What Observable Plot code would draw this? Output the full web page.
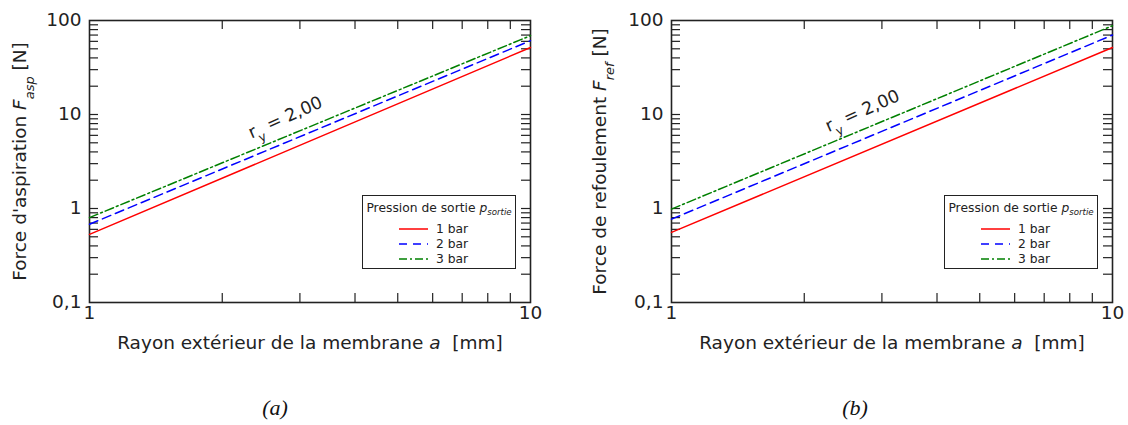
<!DOCTYPE html>
<html>
<head>
<meta charset="utf-8">
<script src="https://cdn.jsdelivr.net/npm/d3@7"></script>
<script src="https://cdn.jsdelivr.net/npm/@observablehq/plot@0.6"></script>
<style>
  body { margin: 0; background: #fff; }
  #wrap { position: relative; width: 1128px; height: 425px; background: #fff; font-family: "DejaVu Sans", sans-serif; color: #222; }
  .panel { position: absolute; top: 0; }
  .cap { position: absolute; top: 395px; width: 60px; text-align: center; font-family: "Liberation Serif", serif; font-style: italic; font-size: 22px; color: #111; }
  .legend { position: absolute; top: 195px; width: 152px; height: 72px; border: 1.5px solid #222; background: #fff; font-size: 12.3px; color: #222; }
  .legend .title { position: absolute; top: 5px; left: 0; width: 100%; text-align: center; white-space: nowrap; }
  .legend .row { position: absolute; left: 36px; height: 15px; display: flex; align-items: center; white-space: nowrap; }
  .legend .row svg { margin-right: 8px; }
  .legend sub { font-size: 70%; font-style: italic; }
</style>
</head>
<body>
<div id="wrap"></div>
<script>
// ---------------- data ----------------
const radius = [1, 10];                       // a [mm]
const pressures = ["1 bar", "2 bar", "3 bar"];
const asp1bar = [0.53, 51.6];                 // F_asp [N]
const asp2bar = [0.68, 61];
const asp3bar = [0.80, 69];
const ref1bar = [0.557, 51.6];                // F_ref [N]
const ref2bar = [0.77, 70];
const ref3bar = [0.985, 88];
const xTickLabels = [1, 10];
const yTickLabels = [0.1, 1, 10, 100];
const annotation = "ry = 2,00";

// ---------------- styles ----------------
const colors = ["#ff0000", "#0000ff", "#008000"];
const dashes = [null, "9,5", "9,3,2,3"];
const ink = "#222";

const xMinor = [2, 3, 4, 5, 6, 7, 8, 9];
const yMinor = [];
[0.1, 1, 10].forEach(d => { for (let k = 1; k <= 9; k++) if (k > 1 || d > 0.1) yMinor.push(d * k); });

function rows(series) {
  const out = [];
  series.forEach((vals, i) => radius.forEach((a, j) => out.push({a, F: vals[j], p: pressures[i]})));
  return out;
}

function rich(textEl, parts) {
  textEl.textContent = "";
  for (const p of parts) {
    const ts = document.createElementNS("http://www.w3.org/2000/svg", "tspan");
    ts.textContent = p.t;
    ts.setAttribute("style", "white-space:pre");
    if (p.i) ts.setAttribute("font-style", "italic");
    if (p.sub) { ts.setAttribute("baseline-shift", "sub"); ts.setAttribute("font-size", "70%"); }
    textEl.appendChild(ts);
  }
}

function makePanel({series, left, ml, mr, yPlaceholder, yParts, ylDx, annX, annY}) {
  const W = 564, H = 360, mt = 20, mb = 58;
  const fh = H - mt - mb, fw = W - ml - mr;
  const data = rows(series);
  const xPlaceholder = "Rayon extérieur de la membrane a [mm]";
  const marks = [
    Plot.frame({stroke: ink, strokeWidth: 1.6}),
    Plot.tickX(xMinor, {x: d => d, insetTop: fh - 9, stroke: ink, strokeWidth: 1.2}),
    Plot.tickX(xMinor, {x: d => d, insetBottom: fh - 9, stroke: ink, strokeWidth: 1.2}),
    Plot.tickY(yMinor, {y: d => d, insetRight: fw - 9, stroke: ink, strokeWidth: 1.2}),
    Plot.tickY(yMinor, {y: d => d, insetLeft: fw - 9, stroke: ink, strokeWidth: 1.2}),
    Plot.axisX({ticks: xTickLabels, tickFormat: d => String(d), tickSize: 0, tickPadding: 3, label: null}),
    Plot.axisY({ticks: yTickLabels, tickFormat: d => String(d).replace(".", ","), tickSize: 0, tickPadding: 8, label: null}),
  ];
  pressures.forEach((p, i) => {
    marks.push(Plot.line(data.filter(d => d.p === p), {
      x: "a", y: "F", stroke: colors[i], strokeWidth: 1.5, strokeDasharray: dashes[i]
    }));
  });
  marks.push(Plot.text([annotation], {x: annX, y: annY, text: d => d, rotate: -24, fontSize: 17.5, textAnchor: "middle", lineAnchor: "middle", fill: ink}));
  marks.push(Plot.text([xPlaceholder], {frameAnchor: "bottom", dy: 41, text: d => d, textAnchor: "middle", lineAnchor: "middle", fill: ink}));
  marks.push(Plot.text([yPlaceholder], {frameAnchor: "left", dx: ylDx, rotate: -90, text: d => d, textAnchor: "middle", lineAnchor: "middle", fill: ink}));

  const svg = Plot.plot({
    width: W, height: H,
    marginLeft: ml, marginRight: mr, marginTop: mt, marginBottom: mb,
    x: {type: "log", domain: [1, 10]},
    y: {type: "log", domain: [0.1, 100]},
    style: {fontFamily: "DejaVu Sans, sans-serif", fontSize: "18.5px", color: ink, background: "#fff", overflow: "visible"},
    marks
  });
  svg.classList.add("panel");
  svg.style.left = left + "px";
  for (const t of svg.querySelectorAll("text")) {
    if (t.textContent === annotation) rich(t, [{t: "r"}, {t: "y", sub: true}, {t: " = 2,00"}]);
    else if (t.textContent === xPlaceholder) rich(t, [{t: "Rayon extérieur de la membrane "}, {t: "a", i: true}, {t: "  [mm]"}]);
    else if (t.textContent === yPlaceholder) rich(t, yParts);
  }
  return svg;
}

const wrap = document.getElementById("wrap");
wrap.appendChild(makePanel({
  series: [asp1bar, asp2bar, asp3bar], left: 0, ml: 89, mr: 34,
  yPlaceholder: "Force d'aspiration Fasp [N]",
  yParts: [{t: "Force d'aspiration "}, {t: "F", i: true}, {t: "asp", i: true, sub: true}, {t: " [N]"}],
  ylDx: -69, annX: 2.78, annY: 9.3
}));
wrap.appendChild(makePanel({
  series: [ref1bar, ref2bar, ref3bar], left: 564, ml: 107, mr: 16,
  yPlaceholder: "Force de refoulement Fref [N]",
  yParts: [{t: "Force de refoulement "}, {t: "F", i: true}, {t: "ref", i: true, sub: true}, {t: " [N]"}],
  ylDx: -71, annX: 2.71, annY: 10.9
}));

function legend(leftPx) {
  const div = document.createElement("div");
  div.className = "legend";
  div.style.left = leftPx + "px";
  let html = '<div class="title">Pression de sortie <i>p</i><sub>sortie</sub></div>';
  pressures.forEach((p, i) => {
    const top = 25.5 + i * 15;
    html += `<div class="row" style="top:${top}px"><svg width="29" height="6"><line x1="0" y1="3" x2="29" y2="3" stroke="${colors[i]}" stroke-width="1.5" ${dashes[i] ? `stroke-dasharray="${dashes[i] === "9,5" ? "8,6" : "8,3,2,3"}"` : ""}/></svg>${p}</div>`;
  });
  div.innerHTML = html;
  wrap.appendChild(div);
}
legend(362);
legend(944);

[["(a)", 275], ["(b)", 855]].forEach(([t, cx]) => {
  const d = document.createElement("div");
  d.className = "cap";
  d.style.left = (cx - 30) + "px";
  d.textContent = t;
  wrap.appendChild(d);
});
</script>
</body>
</html>
